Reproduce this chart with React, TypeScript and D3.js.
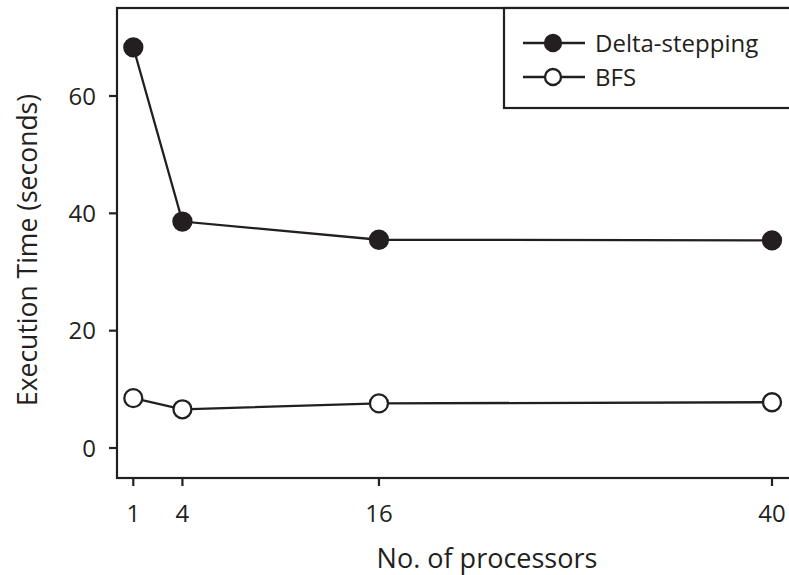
import React from "react";
import * as d3 from "d3";

const processors = [1, 4, 16, 40];
const deltaStepping = [68.3, 38.6, 35.5, 35.4];
const bfs = [8.5, 6.6, 7.6, 7.8];
const yTicks = [0, 20, 40, 60];
const seriesNames = ["Delta-stepping", "BFS"];

const W = 789;
const H = 575;
const FONT = "'Open Sans', sans-serif";

export default function App() {
  const frame = { left: 117, top: 8, right: 789, bottom: 478 };
  const x = d3.scaleLinear().domain([1, 40]).range([133.3, 772]);
  const y = d3.scaleLinear().domain([0, 60]).range([448, 96]);
  const line = d3
    .line<number>()
    .x((_, i) => x(processors[i]))
    .y((d) => y(d));

  const series = [
    { name: seriesNames[0], values: deltaStepping, fill: "#231f20" },
    { name: seriesNames[1], values: bfs, fill: "#ffffff" },
  ];
  const ink = "#231f20";

  return (
    <svg
      width={W}
      height={H}
      style={{ position: "absolute", left: 0, top: 0, background: "#fff" }}
      fontFamily={FONT}
    >
      {/* plot frame */}
      <rect
        x={frame.left}
        y={frame.top}
        width={frame.right - frame.left + 2}
        height={frame.bottom - frame.top}
        fill="none"
        stroke={ink}
        strokeWidth={2.2}
      />
      {/* y axis ticks */}
      {yTicks.map((t) => (
        <g key={t}>
          <line x1={frame.left - 8} x2={frame.left} y1={y(t)} y2={y(t)} stroke={ink} strokeWidth={2.2} />
          <text x={frame.left - 21} y={y(t)} dy="0.36em" textAnchor="end" fontSize={24} fill={ink}>
            {t}
          </text>
        </g>
      ))}
      {/* x axis ticks */}
      {processors.map((p) => (
        <g key={p}>
          <line x1={x(p)} x2={x(p)} y1={frame.bottom} y2={frame.bottom + 8} stroke={ink} strokeWidth={2.2} />
          <text x={x(p)} y={522} textAnchor="middle" fontSize={24} fill={ink}>
            {p}
          </text>
        </g>
      ))}
      <text x={487} y={568} textAnchor="middle" fontSize={27} fill={ink}>
        No. of processors
      </text>
      <text
        transform={`translate(37,${250}) rotate(-90)`}
        textAnchor="middle"
        fontSize={26.5}
        fill={ink}
      >
        Execution Time (seconds)
      </text>

      {/* series */}
      {series.map((s) => (
        <g key={s.name}>
          <path d={line(s.values) ?? ""} fill="none" stroke={ink} strokeWidth={2.3} />
          {s.values.map((v, i) => (
            <circle key={i} cx={x(processors[i])} cy={y(v)} r={9} fill={s.fill} stroke={ink} strokeWidth={2.3} />
          ))}
        </g>
      ))}

      {/* legend */}
      <rect x={504} y={frame.top} width={290} height={100} fill="#fff" stroke={ink} strokeWidth={2.2} />
      {series.map((s, i) => {
        const ly = 43 + i * 34;
        return (
          <g key={s.name}>
            <line x1={523} x2={585} y1={ly} y2={ly} stroke={ink} strokeWidth={2.3} />
            <circle cx={553} cy={ly} r={8} fill={s.fill} stroke={ink} strokeWidth={2.3} />
            <text x={595} y={ly} dy="0.36em" fontSize={24} fill={ink}>
              {s.name}
            </text>
          </g>
        );
      })}
    </svg>
  );
}
